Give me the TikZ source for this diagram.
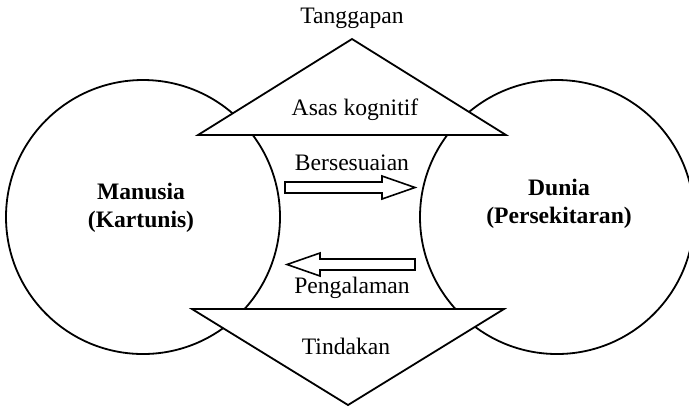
\documentclass[tikz,border=0pt]{standalone}
\usepackage{fontspec}
\setmainfont{Liberation Serif}
\usetikzlibrary{positioning}

\begin{document}
\begin{tikzpicture}[x=0.5pt,y=-0.5pt,line width=0.9pt,
    font=\fontsize{11.8}{14}\selectfont,
    world/.style={circle, draw, minimum size=137pt, inner sep=0pt},
    wedge/.style={draw, fill=white, line join=miter},
    blockarrow/.style={draw, fill=white, line width=0.8pt},
    lbl/.style={align=center, inner sep=1pt},
    boldlbl/.style={lbl, font=\fontsize{11.8}{14}\selectfont\bfseries}]
    \useasboundingbox (0,0) rectangle (689,409);
    % the two worlds
    \node[world] (manusia) at (143,217) {};
    \node[world] (dunia) at (557,217) {};
    \node[boldlbl] (manusiaText) at (141,208) {Manusia\\(Kartunis)};
    \node[boldlbl] (duniaText) at (559,204) {Dunia\\(Persekitaran)};
    % upper and lower wedges
    \coordinate (topApex) at (352,39);
    \coordinate (botApex) at (348,405);
    \draw[wedge] (198,135) -- (topApex) -- (506,135) -- cycle;
    \draw[wedge] (192,309) -- (botApex) -- (504,309) -- cycle;
    \node[lbl, above=4pt of topApex] (tanggapan) {Tanggapan};
    \node[lbl] (asas) at (355,110) {Asas kognitif};
    \node[lbl] (tindakan) at (346,346) {Tindakan};
    % block arrows in the gap
    \draw[blockarrow] (285,182) -- (382,182) -- (382,176) -- (415,187.5)
        -- (382,199) -- (382,193) -- (285,193) -- cycle;
    \draw[blockarrow] (415,259) -- (320,259) -- (320,253) -- (287,264.5)
        -- (320,276) -- (320,270) -- (415,270) -- cycle;
    \node[lbl] (bersesuaian) at (352,163) {Bersesuaian};
    \node[lbl] (pengalaman) at (352,288) {Pengalaman};
\end{tikzpicture}
\end{document}
